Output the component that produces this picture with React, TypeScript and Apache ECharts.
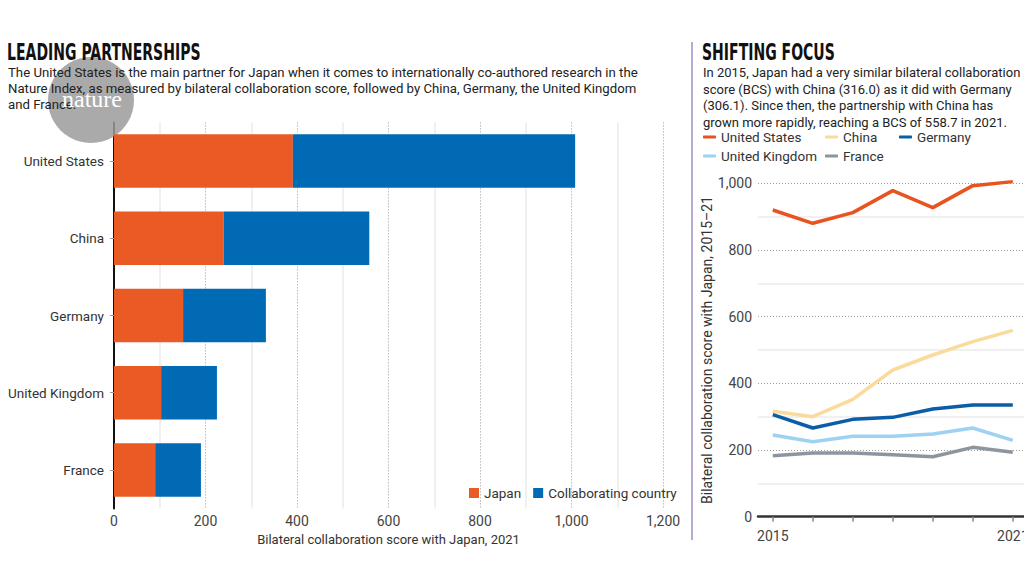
import React, { useEffect, useRef } from "react";
import * as echarts from "echarts";

const barCategories = ["United States", "China", "Germany", "United Kingdom", "France"];
const japanShare = [391, 240, 151, 103, 90];
const partnerShare = [617, 318, 181, 122, 100];

const years = [2015, 2016, 2017, 2018, 2019, 2020, 2021];
const yearLabels = [2015, 2021];
const usScores = [920, 880, 912, 978, 927, 993, 1005];
const chinaScores = [316.0, 300, 352, 440, 485, 525, 558.7];
const germanyScores = [306.1, 266, 292, 298, 323, 335, 335];
const ukScores = [245, 225, 241, 241, 248, 266, 229];
const franceScores = [183, 191, 191, 186, 180, 208, 193];

const leftTitle = "LEADING PARTNERSHIPS";
const leftText =
  "The United States is the main partner for Japan when it comes to internationally co-authored research in the\nNature Index, as measured by bilateral collaboration score, followed by China, Germany, the United Kingdom\nand France.";
const rightTitle = "SHIFTING FOCUS";
const rightText =
  "In 2015, Japan had a very similar bilateral collaboration\nscore (BCS) with China (316.0) as it did with Germany\n(306.1). Since then, the partnership with China has\ngrown more rapidly, reaching a BCS of 558.7 in 2021.";

const FONT = "Roboto, 'Noto Sans', sans-serif";
const TITLE_FONT = "'DejaVu Sans', sans-serif";

const fmt = (v: number) => Number(v).toLocaleString("en-US");

export default function App() {
  const ref = useRef<HTMLDivElement>(null);
  useEffect(() => {
    document.body.style.margin = "0";
    const chart = echarts.init(ref.current!, null, { renderer: "svg" });
    const pair = (arr: number[]) => arr.map((v, i) => [years[i], v]);
    const lineSeries = (name: string, data: number[], color: string) => ({
      type: "line",
      name,
      xAxisIndex: 1,
      yAxisIndex: 1,
      data: pair(data),
      symbol: "none",
      clip: false,
      lineStyle: { color, width: 3.5 },
      itemStyle: { color },
    });
    const lineLegend = (left: number, data: string[]) => ({
      data,
      left,
      top: 130,
      orient: "vertical",
      itemGap: 5,
      itemWidth: 13,
      itemHeight: 3,
      icon: "roundRect",
      textStyle: { fontFamily: FONT, fontSize: 13.5, color: "#333" },
      padding: 0,
    });
    chart.setOption({
      animation: false,
      backgroundColor: "#fff",
      grid: [
        { left: 114, right: 361, top: 122.4, bottom: 67.4, outerBoundsMode: "none" },
        { left: 758, right: 0, top: 183.3, bottom: 59.3, outerBoundsMode: "none" },
      ],
      legend: [
        {
          data: ["Japan", "Collaborating country"],
          left: 469,
          top: 486,
          icon: "rect",
          itemWidth: 10,
          itemHeight: 10,
          itemGap: 12,
          padding: 0,
          textStyle: { fontFamily: FONT, fontSize: 13.5, color: "#333" },
        },
        lineLegend(703, ["United States", "United Kingdom"]),
        lineLegend(825, ["China", "France"]),
        lineLegend(899, ["Germany"]),
      ],
      xAxis: [
        {
          type: "value",
          gridIndex: 0,
          min: 0,
          max: 1200,
          interval: 200,
          axisLine: { show: false },
          axisTick: { show: false },
          axisLabel: { formatter: fmt, fontFamily: FONT, fontSize: 14, color: "#444", margin: 5 },
          splitLine: { show: true, lineStyle: { color: "#9a9a9a", type: [1, 2], width: 1 } },
          minorTick: { show: false, splitNumber: 2 },
          minorSplitLine: { show: true, lineStyle: { color: "#ebebeb", width: 1.5 } },
          name: "Bilateral collaboration score with Japan, 2021",
          nameLocation: "middle",
          nameGap: 22,
          nameTextStyle: { fontFamily: FONT, fontSize: 13, color: "#333" },
        },
        {
          type: "value",
          gridIndex: 1,
          min: 2014.63,
          max: 2021.28,
          axisLine: { show: true, lineStyle: { color: "#333", width: 2.5 } },
          axisTick: { show: true, customValues: years, length: 5, lineStyle: { color: "#888", width: 1.5 } },
          axisLabel: {
            customValues: yearLabels,
            formatter: (v: number) => String(v),
            fontFamily: FONT,
            fontSize: 14,
            color: "#444",
            margin: 12,
          },
          splitLine: { show: false },
        },
      ],
      yAxis: [
        {
          type: "category",
          gridIndex: 0,
          inverse: true,
          data: barCategories,
          axisLine: { show: true, lineStyle: { color: "#111", width: 2 } },
          axisTick: { show: true, alignWithLabel: true, length: 4, lineStyle: { color: "#999" } },
          axisLabel: { fontFamily: FONT, fontSize: 13.5, color: "#333", margin: 10 },
        },
        {
          type: "value",
          gridIndex: 1,
          min: 0,
          max: 1000,
          interval: 200,
          axisLine: { show: false },
          axisTick: { show: false },
          axisLabel: { formatter: fmt, fontFamily: FONT, fontSize: 14, color: "#444", margin: 6 },
          splitLine: { show: true, lineStyle: { color: "#9a9a9a", type: [1, 2], width: 1 } },
          minorTick: { show: false, splitNumber: 2 },
          minorSplitLine: { show: true, lineStyle: { color: "#ebebeb", width: 1.5 } },
          name: "Bilateral collaboration score with Japan, 2015–21",
          nameLocation: "middle",
          nameRotate: 90,
          nameGap: 44,
          nameTextStyle: { fontFamily: FONT, fontSize: 14, color: "#333" },
        },
      ],
      series: [
        {
          type: "bar",
          name: "Japan",
          stack: "total",
          xAxisIndex: 0,
          yAxisIndex: 0,
          data: japanShare,
          barWidth: "69%",
          itemStyle: { color: "#EA5A25" },
        },
        {
          type: "bar",
          name: "Collaborating country",
          stack: "total",
          xAxisIndex: 0,
          yAxisIndex: 0,
          data: partnerShare,
          barWidth: "69%",
          itemStyle: { color: "#006AB5" },
        },
        lineSeries("United States", usScores, "#E8531F"),
        lineSeries("China", chinaScores, "#FADB9C"),
        lineSeries("Germany", germanyScores, "#0B5DA8"),
        lineSeries("United Kingdom", ukScores, "#9ED2F0"),
        lineSeries("France", franceScores, "#8D96A0"),
      ],
      graphic: [
        {
          type: "circle",
          shape: { cx: 91, cy: 100, r: 43 },
          style: { fill: "#9b9b9b", opacity: 0.85 },
          z: 1,
        },
        {
          type: "line",
          shape: { x1: 692, y1: 42, x2: 692, y2: 540 },
          style: { stroke: "#B6A9D4", lineWidth: 2 },
          z: 1,
        },
        {
          type: "text",
          x: 7,
          y: 52,
          z: 5,
          scaleX: 0.61,
          style: {
            text: leftTitle,
            fontFamily: TITLE_FONT,
            fontWeight: "bold",
            fontSize: 23,
            fill: "#111",
            verticalAlign: "middle",
          },
        },
        {
          type: "text",
          x: 8,
          y: 64,
          z: 5,
          style: {
            text: leftText,
            fontFamily: FONT,
            fontSize: 13.2,
            lineHeight: 16,
            fill: "#222",
            verticalAlign: "top",
          },
        },
        {
          type: "text",
          x: 702,
          y: 52,
          z: 5,
          scaleX: 0.61,
          style: {
            text: rightTitle,
            fontFamily: TITLE_FONT,
            fontWeight: "bold",
            fontSize: 23,
            fill: "#111",
            verticalAlign: "middle",
          },
        },
        {
          type: "text",
          x: 703,
          y: 64,
          z: 5,
          style: {
            text: rightText,
            fontFamily: FONT,
            fontSize: 13,
            lineHeight: 16.7,
            fill: "#222",
            verticalAlign: "top",
          },
        },
        {
          type: "text",
          x: 92,
          y: 99,
          z: 6,
          style: {
            text: "nature",
            fontFamily: "'Liberation Serif', 'DejaVu Serif', serif",
            fontSize: 24,
            fill: "#fff",
            align: "center",
            verticalAlign: "middle",
          },
        },
      ],
    });
    return () => chart.dispose();
  }, []);
  return <div ref={ref} style={{ width: 1024, height: 576 }} />;
}
